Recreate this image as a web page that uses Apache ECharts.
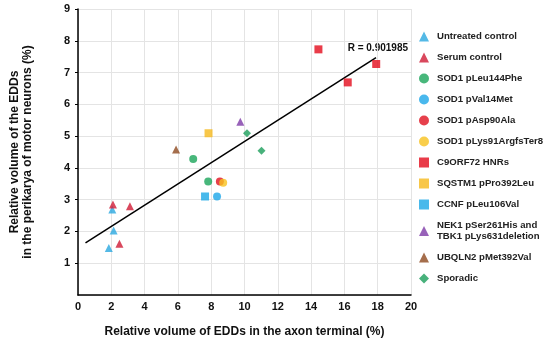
<!DOCTYPE html>
<html><head><meta charset="utf-8">
<script src="https://cdn.jsdelivr.net/npm/echarts@6/dist/echarts.min.js"></script>
<style>html,body{margin:0;padding:0;background:#fff}#c{width:550px;height:343px}</style>
</head><body><div id="c"></div>
<script>
// Series data: [x, y]
const untreatedControl = [[1.85, 1.48], [2.06, 2.69], [2.14, 2.03]];
const serumControl = [[2.1, 2.85], [3.12, 2.79], [2.49, 1.61]];
const sod1Leu144Phe = [[6.92, 4.28], [7.82, 3.57]];
const sod1Val14Met = [[8.35, 3.1]];
const sod1Asp90Ala = [[8.52, 3.57]];
const sod1Lys91 = [[8.72, 3.53]];
const c9orf72 = [[14.44, 7.73], [16.2, 6.69], [17.91, 7.27]];
const sqstm1 = [[7.84, 5.09]];
const ccnf = [[7.63, 3.1]];
const nek1tbk1 = [[9.75, 5.45]];
const ubqln2 = [[5.89, 4.58]];
const sporadic = [[10.15, 5.09], [11.02, 4.54]];
const trendX = [0.45, 17.9];
const trendY = [1.64, 7.47];
const xTicks = [0, 2, 4, 6, 8, 10, 12, 14, 16, 18, 20];
const yTicks = [0, 1, 2, 3, 4, 5, 6, 7, 8, 9];
const rText = 'R = 0.901985';

const FONT = '"Liberation Sans", Arial, sans-serif';
const defs = [
  ['Untreated control', untreatedControl, 'triangle', '#29A8E0', 8],
  ['Serum control', serumControl, 'triangle', '#D01A35', 8],
  ['SOD1 pLeu144Phe', sod1Leu144Phe, 'circle', '#1AA55A', 8],
  ['SOD1 pVal14Met', sod1Val14Met, 'circle', '#1BA6E8', 8],
  ['SOD1 pAsp90Ala', sod1Asp90Ala, 'circle', '#E0101F', 8],
  ['SOD1 pLys91ArgfsTer8', sod1Lys91, 'circle', '#F7C21E', 8],
  ['C9ORF72 HNRs', c9orf72, 'rect', '#E30B1C', 8],
  ['SQSTM1 pPro392Leu', sqstm1, 'rect', '#F6B91C', 8],
  ['CCNF pLeu106Val', ccnf, 'rect', '#1BA8E6', 8],
  ['NEK1 pSer261His and\nTBK1 pLys631deletion', nek1tbk1, 'triangle', '#7E3BA8', 8],
  ['UBQLN2 pMet392Val', ubqln2, 'triangle', '#8E4A1F', 8],
  ['Sporadic', sporadic, 'diamond', '#1A9E5A', 8]
];

const series = defs.map(d => ({
  name: d[0], type: 'scatter', data: d[1], symbol: d[2], symbolSize: d[4],
  itemStyle: {color: d[3]}, z: 3
}));
series.push({
  name: 'trend', type: 'line', data: trendX.map((x, i) => [x, trendY[i]]),
  symbol: 'none', lineStyle: {color: '#000', width: 1.5}, z: 2, silent: true
});

const chart = echarts.init(document.getElementById('c'), null, {width: 550, height: 343});
chart.setOption({
  animation: false,
  textStyle: {fontFamily: FONT},
  grid: {left: 68, width: 343, top: 9, height: 291, containLabel: false},
  xAxis: {
    type: 'value', min: xTicks[0], max: xTicks[xTicks.length - 1], interval: 2,
    name: 'Relative volume of EDDs in the axon terminal (%)',
    nameLocation: 'middle', nameGap: 31,
    nameTextStyle: {fontFamily: FONT, fontWeight: 'bold', fontSize: 12, color: '#111'},
    axisLine: {lineStyle: {color: '#000', width: 1.5}},
    axisTick: {show: false},
    axisLabel: {fontFamily: FONT, fontWeight: 'bold', fontSize: 11, color: '#111', margin: 6},
    splitLine: {lineStyle: {color: '#e4e4e4'}}
  },
  yAxis: {
    type: 'value', min: yTicks[0], max: yTicks[yTicks.length - 1], interval: 1,
    name: 'Relative volume of the EDDs\nin the perikarya of motor neurons (%)',
    nameLocation: 'middle', nameGap: 44, nameRotate: 90,
    nameTextStyle: {fontFamily: FONT, fontWeight: 'bold', fontSize: 12, lineHeight: 13, color: '#111'},
    axisLine: {show: true, lineStyle: {color: '#000', width: 1.5}},
    axisTick: {show: true, length: 3, lineStyle: {color: '#000'}},
    axisLabel: {fontFamily: FONT, fontWeight: 'bold', fontSize: 11, color: '#111', margin: 8, showMinLabel: false,
      formatter: v => (v === 0 ? '' : String(v))},
    splitLine: {lineStyle: {color: '#e4e4e4'}}
  },
  legend: {
    orient: 'vertical', left: 414, top: 26, itemWidth: 10, itemHeight: 10, itemGap: 10,
    data: defs.map(d => ({name: d[0], icon: d[2]})),
    textStyle: {fontFamily: FONT, fontWeight: 'bold', fontSize: 9.6, lineHeight: 11, color: '#222', padding: [0, 0, 0, 3]}
  },
  graphic: [{
    type: 'text', right: 142, top: 43,
    style: {text: rText, font: 'bold 10px ' + FONT, fill: '#111'}
  }],
  series: series
});
</script></body></html>
